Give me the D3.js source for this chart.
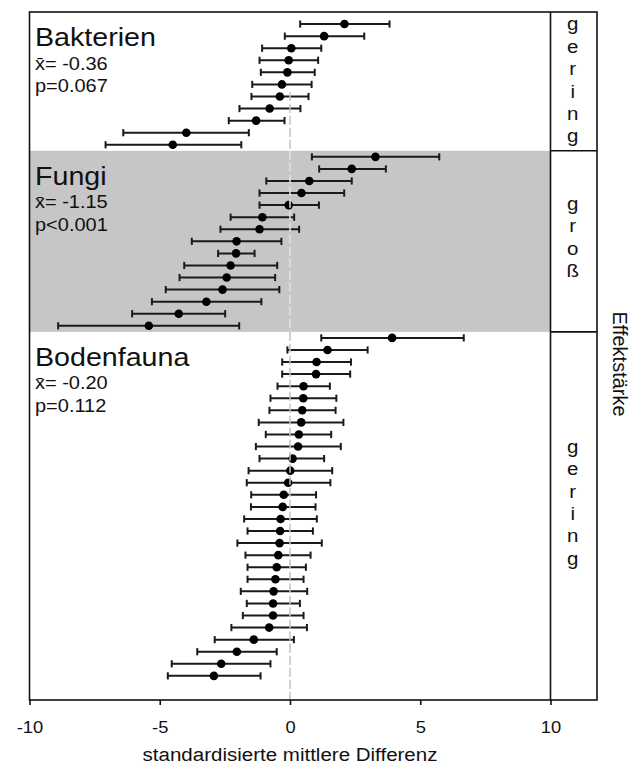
<!DOCTYPE html>
<html>
<head>
<meta charset="utf-8">
<script src="https://cdn.jsdelivr.net/npm/d3@7"></script>
<style>
  html, body { margin: 0; padding: 0; background: #fff; }
  svg { display: block; font-family: "Liberation Sans", Arial, sans-serif; }
</style>
</head>
<body>
<svg id="chart" width="641" height="765"></svg>
<script>
// ---- data: standardised mean differences with confidence limits ----
const groupNames   = ["Bakterien", "Fungi", "Bodenfauna"];
const groupAverage = ["-0.36", "-1.15", "-0.20"];
const groupP       = ["p=0.067", "p<0.001", "p=0.112"];
const effectLabels = ["gering", "groß", "gering"];

const bakterienMean  = [2.09, 1.31, 0.05, -0.05, -0.10, -0.31, -0.39, -0.78, -1.30, -3.98, -4.50];
const bakterienLower = [0.39, -0.20, -1.07, -1.17, -1.12, -1.45, -1.48, -1.94, -2.35, -6.40, -7.08];
const bakterienUpper = [3.82, 2.85, 1.20, 1.08, 0.95, 0.83, 0.71, 0.40, -0.21, -1.58, -1.87];

const fungiMean  = [3.28, 2.37, 0.74, 0.44, -0.05, -1.06, -1.17, -2.05, -2.07, -2.28, -2.43, -2.59, -3.21, -4.27, -5.42];
const fungiLower = [0.84, 1.12, -0.91, -1.17, -1.17, -2.28, -2.67, -3.77, -2.76, -4.06, -4.24, -4.77, -5.30, -6.06, -8.90];
const fungiUpper = [5.73, 3.68, 2.37, 2.08, 1.11, 0.16, 0.35, -0.33, -1.36, -0.49, -0.57, -0.41, -1.10, -2.49, -1.95];

const faunaMean  = [3.92, 1.44, 1.02, 1.00, 0.52, 0.51, 0.47, 0.43, 0.34, 0.31, 0.10, 0.01, -0.07, -0.24, -0.28,
                    -0.36, -0.38, -0.40, -0.45, -0.51, -0.56, -0.63, -0.65, -0.65, -0.80, -1.39, -2.04, -2.64, -2.92];
const faunaLower = [1.20, -0.10, -0.30, -0.30, -0.48, -0.75, -0.79, -1.20, -0.93, -1.31, -1.17, -1.59, -1.66, -1.49, -1.50,
                    -1.76, -1.63, -2.02, -1.71, -1.63, -1.63, -1.89, -1.66, -1.81, -2.25, -2.89, -3.56, -4.54, -4.69];
const faunaUpper = [6.67, 2.98, 2.34, 2.31, 1.53, 1.78, 1.75, 2.05, 1.58, 1.95, 1.31, 1.62, 1.55, 1.00, 0.98,
                    1.03, 0.88, 1.22, 0.79, 0.61, 0.52, 0.66, 0.38, 0.52, 0.65, 0.15, -0.51, -0.75, -1.13];

const xTicks = [-10, -5, 0, 5, 10];
const xTitle = "standardisierte mittlere Differenz";
const stripTitle = "Effektstärke";

// ---- assemble groups and a running row index ----
const seriesByGroup = [
  [bakterienMean, bakterienLower, bakterienUpper],
  [fungiMean, fungiLower, fungiUpper],
  [faunaMean, faunaLower, faunaUpper]
];
const shadedGroup = [false, true, false];

let rowCounter = 0;
const groups = groupNames.map((name, gi) => {
  const [m, lo, hi] = seriesByGroup[gi];
  const rows = m.map((v, i) => ({ mean: v, lower: lo[i], upper: hi[i], row: rowCounter + i }));
  const g = { name, avg: groupAverage[gi], p: groupP[gi], effect: effectLabels[gi],
              shaded: shadedGroup[gi], rows, first: rowCounter, last: rowCounter + m.length - 1 };
  rowCounter += m.length;
  return g;
});
const totalRows = rowCounter;

// ---- layout ----
const plotLeft = 29.5, plotRight = 550.5, stripRight = 597, plotTop = 12, plotBottom = 700;
const stretch = 1.08;   // slightly wide lettering

const x = d3.scaleLinear().domain([-10, 10]).range([plotLeft, plotRight]);
const y = d3.scaleLinear().domain([-1, totalRows + 1]).range([plotTop, plotBottom]);

const svg = d3.select("#chart");
svg.append("rect").attr("width", 641).attr("height", 765).attr("fill", "#fff");

function groupTop(g)    { return g.first === 0 ? plotTop : y(g.first - 0.5); }
function groupBottom(g) { return g.last === totalRows - 1 ? plotBottom : y(g.last + 0.5); }

// shaded band behind the fungal studies
svg.append("g").selectAll("rect")
  .data(groups.filter(g => g.shaded))
  .join("rect")
  .attr("x", x(-10)).attr("width", x(10) - x(-10))
  .attr("y", d => groupTop(d)).attr("height", d => groupBottom(d) - groupTop(d))
  .attr("fill", "#c6c6c6");

// group headings and summary statistics
const heads = svg.append("g").attr("fill", "#111");
groups.forEach(g => {
  const t = groupTop(g);
  heads.append("text").attr("transform", `translate(35,${t + 34}) scale(${stretch},1)`)
    .attr("font-size", 26.5).text(g.name);
  heads.append("text").attr("transform", `translate(35,${t + 57.5}) scale(${stretch},1)`)
    .attr("font-size", 18.5).text("x\u0304= " + g.avg);
  heads.append("text").attr("transform", `translate(35,${t + 80}) scale(${stretch},1)`)
    .attr("font-size", 18.5).text(g.p);
});

// error bars with caps and point estimates
const allRows = groups.flatMap(g => g.rows);
const bars = svg.append("g").attr("stroke", "#1a1a1a").attr("stroke-width", 2);
const capH = 3.6;
bars.selectAll("line.ci").data(allRows).join("line").attr("class", "ci")
  .attr("x1", d => x(d.lower)).attr("x2", d => x(d.upper))
  .attr("y1", d => y(d.row)).attr("y2", d => y(d.row));
bars.selectAll("line.capL").data(allRows).join("line").attr("class", "capL")
  .attr("x1", d => x(d.lower)).attr("x2", d => x(d.lower))
  .attr("y1", d => y(d.row) - capH).attr("y2", d => y(d.row) + capH);
bars.selectAll("line.capR").data(allRows).join("line").attr("class", "capR")
  .attr("x1", d => x(d.upper)).attr("x2", d => x(d.upper))
  .attr("y1", d => y(d.row) - capH).attr("y2", d => y(d.row) + capH);
svg.append("g").selectAll("circle").data(allRows).join("circle")
  .attr("cx", d => x(d.mean)).attr("cy", d => y(d.row)).attr("r", 4.3)
  .attr("fill", "#000");

// dashed reference line at zero difference
const zero = svg.append("g").attr("stroke-width", 1.5).attr("stroke-dasharray", "9,3");
groups.forEach((g, gi) => {
  const y1 = gi === 0 ? y(g.first + 5.6) : groupTop(g);
  zero.append("line")
    .attr("x1", x(0)).attr("x2", x(0))
    .attr("y1", y1).attr("y2", groupBottom(g))
    .attr("stroke", g.shaded ? "#e4e4e4" : "#c2c2c2");
});

// frame, strip divider and strip separators
const frame = svg.append("g").attr("stroke", "#111").attr("stroke-width", 1.6).attr("fill", "none");
frame.append("rect").attr("x", plotLeft).attr("y", plotTop)
  .attr("width", stripRight - plotLeft).attr("height", plotBottom - plotTop);
frame.append("line").attr("x1", x(10)).attr("x2", x(10)).attr("y1", plotTop).attr("y2", plotBottom);
groups.slice(1).forEach(g => {
  frame.append("line").attr("x1", x(10)).attr("x2", stripRight)
    .attr("y1", groupTop(g)).attr("y2", groupTop(g));
});

// effect-size letters stacked in the strip, centred on each group's rows
const stripX = (x(10) + stripRight) / 2 - 1;
const letterStep = 22.4;
const strip = svg.append("g").attr("fill", "#111").attr("font-size", 19).attr("text-anchor", "middle");
groups.forEach(g => {
  const letters = Array.from(g.effect);
  const mid = (y(g.first - 0.5) + y(g.last + 0.5)) / 2 + 2;
  const start = mid - (letters.length - 1) * letterStep / 2;
  letters.forEach((ch, i) => {
    strip.append("text")
      .attr("transform", `translate(${stripX},${start + i * letterStep}) scale(${stretch},1)`)
      .text(ch);
  });
});

// x axis
const axis = svg.append("g").attr("transform", `translate(0,${plotBottom})`)
  .call(d3.axisBottom(x).tickValues(xTicks).tickSize(5).tickSizeOuter(0).tickFormat(d3.format("d")));
axis.select(".domain").remove();
axis.selectAll(".tick line").attr("stroke", "#111").attr("stroke-width", 1.6);
axis.selectAll(".tick text")
  .attr("y", 33).attr("dy", 0)
  .attr("transform", `scale(${stretch},1)`)
  .attr("font-size", 17).attr("fill", "#111")
  .attr("font-family", "Liberation Sans, Arial, sans-serif")
  .text(d => d < 0 ? "-" + Math.abs(d) : d);

svg.append("text")
  .attr("transform", `translate(${x(0)},761) scale(${stretch},1)`)
  .attr("text-anchor", "middle").attr("font-size", 19).attr("fill", "#111")
  .text(xTitle);

// strip title, rotated
svg.append("text")
  .attr("transform", `translate(613,364) rotate(90)`)
  .attr("text-anchor", "middle").attr("font-size", 20).attr("fill", "#111")
  .text(stripTitle);
</script>
</body>
</html>
